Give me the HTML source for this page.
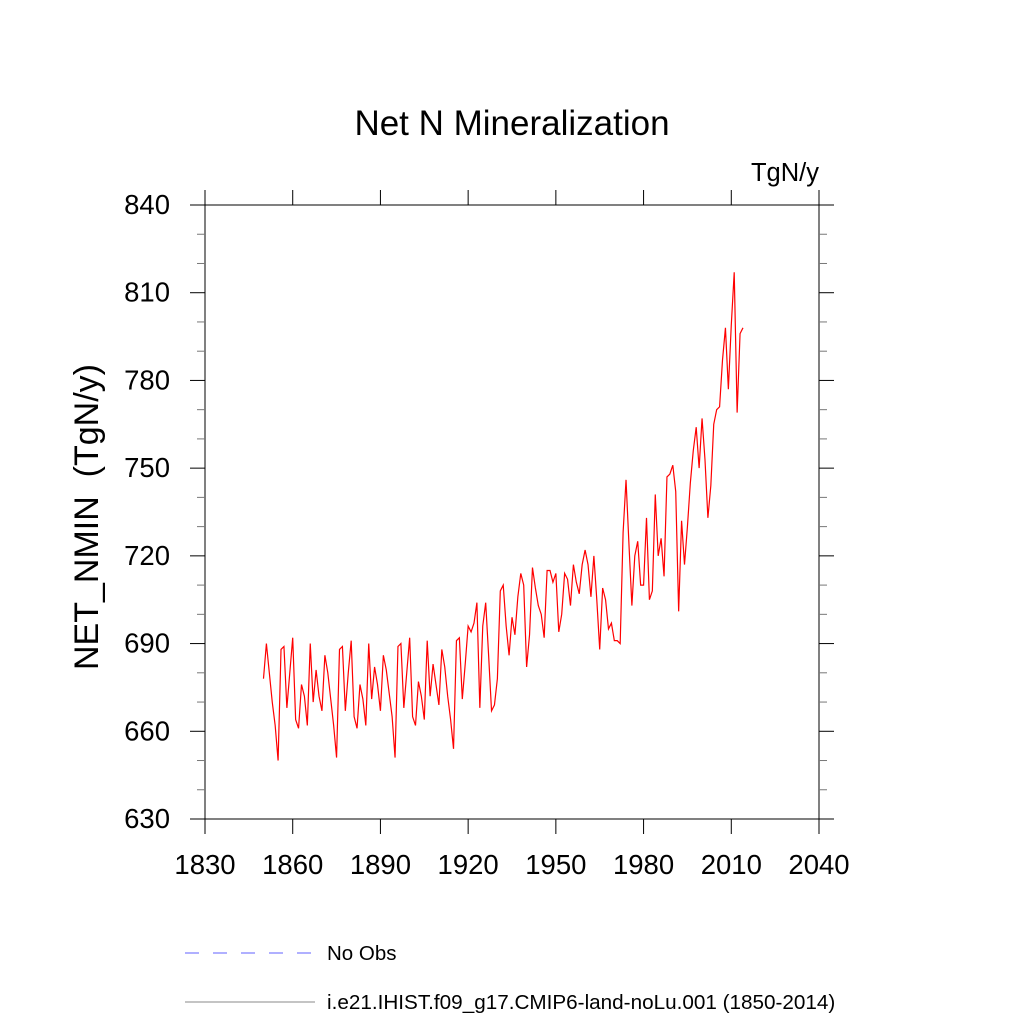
<!DOCTYPE html>
<html><head><meta charset="utf-8"><style>
body{margin:0;background:#fff;}
svg{display:block;font-family:"Liberation Sans",sans-serif;}
</style></head><body>
<svg id="chart" width="1024" height="1024" viewBox="0 0 1024 1024">
<text x="512" y="135" font-size="35" text-anchor="middle">Net N Mineralization</text>
<text x="819" y="181" font-size="25.5" text-anchor="end">TgN/y</text>
<text transform="translate(98,517) rotate(-90)" font-size="34" text-anchor="middle" style="white-space:pre">NET_NMIN  (TgN/y)</text>
<g id="axes"></g>
<g id="series"></g>
<line x1="185" y1="953" x2="315" y2="953" stroke="#6060ff" stroke-width="1" stroke-dasharray="14,14"/>
<text x="327" y="960" font-size="20.5">No Obs</text>
<line x1="185" y1="1002" x2="315" y2="1002" stroke="#888" stroke-width="1"/>
<text x="327" y="1009" font-size="20.7">i.e21.IHIST.f09_g17.CMIP6-land-noLu.001 (1850-2014)</text>
</svg>
<script>
const startYear = 1850;
const values = [678,690,680,670,662,650,688,689,668,680,692,664,661,676,672,662,690,670,681,672,667,686,680,671,662,651,688,689,667,680,691,665,661,676,671,662,690,671,682,676,667,686,681,673,665,651,689,690,668,680,692,665,662,677,672,664,691,672,683,676,669,688,682,672,664,654,691,692,671,683,696,694,697,704,668,696,704,686,667,669,678,708,710,696,686,699,693,706,714,710,682,693,716,709,703,700,692,715,715,711,714,694,700,714,712,703,717,711,707,717,722,717,706,720,705,688,709,705,695,697,691,691,690,728,746,724,703,720,725,710,710,733,705,708,741,720,726,713,747,748,751,742,701,732,717,730,745,756,764,750,767,753,733,744,765,770,771,787,798,777,799,817,769,796,798];
const xTicks = [1830,1860,1890,1920,1950,1980,2010,2040];
const yTicks = [630,660,690,720,750,780,810,840];
const L=205,R=819,T=205,B=819;
const xs=y=>L+(y-1830)/210*(R-L);
const ys=v=>B-(v-630)/210*(B-T);
const NS='http://www.w3.org/2000/svg';
const ax=document.getElementById('axes');
function mk(tag,at,parent){const e=document.createElementNS(NS,tag);for(const k in at)e.setAttribute(k,at[k]);parent.appendChild(e);return e;}
const fr=mk('rect',{x:L,y:T,width:R-L,height:B-T,fill:'none',stroke:'#000','stroke-width':1},ax);


xTicks.forEach(t=>{const x=xs(t);
 const a=mk('line',{x1:x,y1:B,x2:x,y2:B+15,stroke:'#000'},ax);
 
 
 const b=mk('line',{x1:x,y1:T,x2:x,y2:T-15,stroke:'#000'},ax);
 
 
 const tx=mk('text',{x:x,y:874,'font-size':27.5,'text-anchor':'middle'},ax);tx.textContent=t;
 
 
});
for(let v=630;v<=840;v+=10){const y=ys(v);const major=(v-630)%30===0;const len=major?15:8;
 const a=mk('line',{x1:L,y1:y,x2:L-len,y2:y,stroke:major?'#000':'#777'},ax);
 
 
 const b=mk('line',{x1:R,y1:y,x2:R+len,y2:y,stroke:major?'#000':'#777'},ax);
 
 
}
yTicks.forEach(t=>{const tx=mk('text',{x:170,y:ys(t)+9,'font-size':27.5,'text-anchor':'end'},ax);tx.textContent=t;
 
 
});
const pts=values.map((v,i)=>xs(startYear+i).toFixed(2)+','+ys(v).toFixed(2)).join(' ');
const pl=mk('polyline',{points:pts,fill:'none',stroke:'#ff0000','stroke-width':1.2},document.getElementById('series'));


</script>
</body></html>
